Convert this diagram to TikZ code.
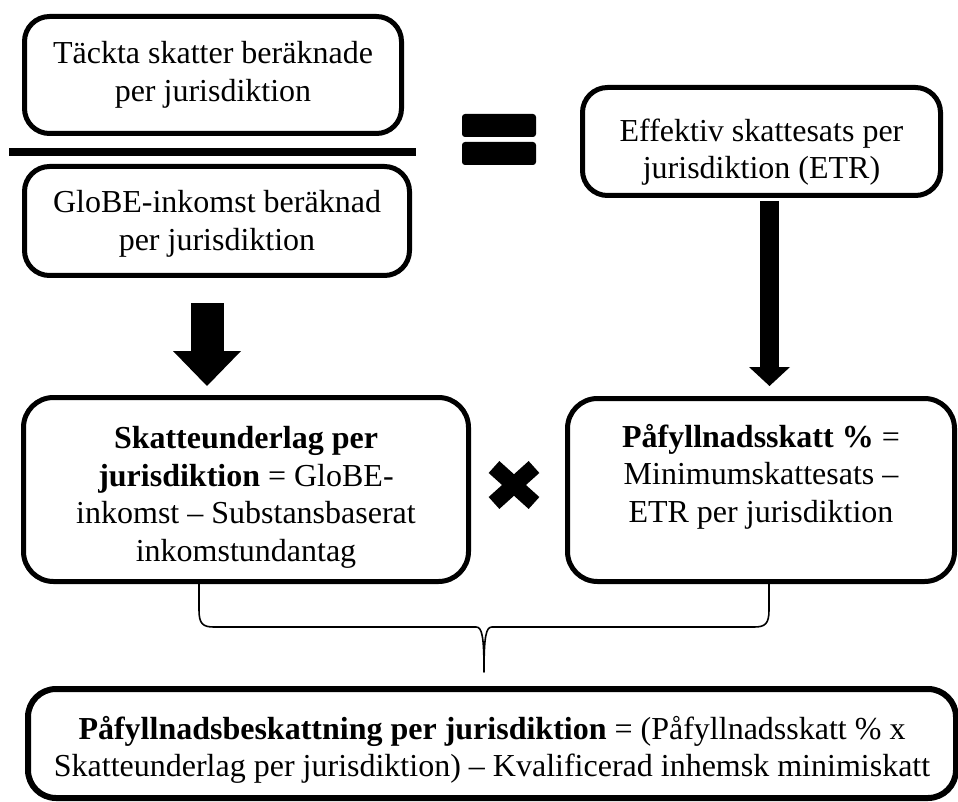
\documentclass[tikz,border=0pt]{standalone}
\usepackage{fontspec}
\setmainfont{Liberation Serif}
\usetikzlibrary{arrows.meta,calc}
\begin{document}
\tikzset{
  box/.style={draw=black, line width=5pt, rounded corners=25pt, fill=white,
    align=center, inner sep=0pt, font=\fontsize{32}{37.5}\selectfont},
  bigbox/.style={box, rounded corners=30pt},
  symbolfill/.style={fill=black, rounded corners=3pt},
  blockarrow/.style={line width=33pt, -{Triangle[width=68pt,length=35pt,line width=0pt]}},
  slimarrow/.style={line width=19pt, -{Triangle[width=41pt,length=19pt,line width=0pt]}},
  bracepath/.style={line width=1.6pt, line join=round}
}
\begin{tikzpicture}[x=1pt,y=-1pt]
\useasboundingbox (0,0) rectangle (958,802);
% numerator
\node[box, minimum width=377pt, minimum height=117pt] (covered) at (213,75)
  {Täckta skatter beräknade\\per jurisdiktion};
% fraction bar
\draw[line width=7.5pt] (9,152) -- (416,152);
% denominator
\node[box, minimum width=385pt, minimum height=109pt] (globe) at (217,221)
  {\rule{0pt}{28pt}GloBE-inkomst beräknad\\per jurisdiktion};
% equals sign
\fill[symbolfill] (462,114) rectangle (536,137);
\fill[symbolfill] (462,142) rectangle (536,165);
% ETR
\node[box, minimum width=358pt, minimum height=108pt] (etr) at (761.5,141.5)
  {\rule{0pt}{44pt}Effektiv skattesats per\\jurisdiktion (ETR)};
% big boxes
\node[bigbox, minimum width=445pt, minimum height=184pt] (base) at (246,489.5)
  {\rule{0pt}{38pt}\textbf{Skatteunderlag per}\\\textbf{jurisdiktion} = GloBE-\\inkomst – Substansbaserat\\inkomstundantag};
\node[bigbox, minimum width=387pt, minimum height=183pt] (topup) at (761,490)
  {\rule{0pt}{38pt}\textbf{Påfyllnadsskatt \%} =\\Minimumskattesats –\\ETR per jurisdiktion\\\strut};
% multiplication sign
\draw[line width=16pt] (494,467) -- (534,503) (534,467) -- (494,503);
% arrows
\coordinate (la1) at (207,303);
\coordinate (la2) at (207,386);
\draw[blockarrow] (la1) -- (la2);
\coordinate (ra1) at ($(etr.south)+(8,3)$);
\coordinate (ra2) at (769.5,386);
\draw[slimarrow] (ra1) -- (ra2);
% brace
\coordinate (bl) at (199,582);
\coordinate (br) at (769,582);
\coordinate (bt) at (484,672);
\draw[bracepath] (bl) -- (199,610) .. controls (199,624) and (203,627) .. (214,627)
  -- (476,627) .. controls (482,627) and (484,636) .. (bt)
  .. controls (484,636) and (486,627) .. (492,627)
  -- (754,627) .. controls (765,627) and (769,624) .. (769,610) -- (br);
% result
\node[box, line width=6pt, rounded corners=28pt, minimum width=928pt, minimum height=109pt] (result) at (492,743.5)
  {\rule{0pt}{36pt}\textbf{Påfyllnadsbeskattning per jurisdiktion} = (Påfyllnadsskatt \% x\\Skatteunderlag per jurisdiktion) – Kvalificerad inhemsk minimiskatt};
\end{tikzpicture}
\end{document}
